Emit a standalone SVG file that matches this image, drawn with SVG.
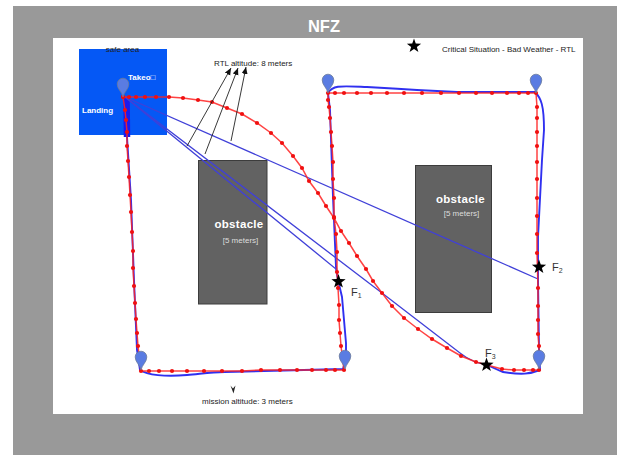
<svg xmlns="http://www.w3.org/2000/svg" width="617" height="455" viewBox="0 0 617 455">
<style>
text{font-family:"Liberation Sans",Arial,sans-serif}
.lbl{font-size:8px;fill:#222}
.w{fill:#fff;font-weight:bold}
.obs{fill:#626262;stroke:#3c3c3c;stroke-width:1}
.ob{font-size:11.500px;fill:#fff;font-weight:bold;letter-spacing:.3px}
.obm{font-size:8px;fill:#ddd}
.rl{fill:none;stroke:#f22;stroke-width:1.500;stroke-opacity:.85;marker-start:url(#dm);marker-mid:url(#dm);marker-end:url(#dm)}
.bl{fill:none;stroke:#1a1aee;stroke-width:1.900;stroke-opacity:.9}
.blt{fill:none;stroke:#1a1aee;stroke-width:6.500}
.th{fill:none;stroke:#4040d8;stroke-width:1.300}
.ar{fill:none;stroke:#222;stroke-width:.9;marker-end:url(#ah)}
.fl{font-size:11px;fill:#333}
.sub{font-size:7px;fill:#333}
</style>
<defs>
<marker id="ah" markerWidth="8" markerHeight="8" refX="7" refY="3" orient="auto" markerUnits="userSpaceOnUse"><path d="M0 0L7 3L0 6Z" fill="#111"/></marker>
<marker id="dm" markerWidth="6" markerHeight="6" refX="3" refY="3" markerUnits="userSpaceOnUse"><circle cx="3" cy="3" r="2.100" fill="#f01010"/></marker>
<path id="star" d="M0-7.500L1.760-2.430L7.130-2.320L2.850.93L4.410 6.070L0 3L-4.410 6.070L-2.850.93L-7.130-2.320L-1.760-2.430Z" fill="#000"/>
<path id="pin" d="M0 0C-1-5-5.800-8-5.800-13A5.800 5.800 0 0 1 5.800-13C5.800-8 1-5 0 0Z" fill="#5a7ce2" stroke="#6a7a9a" stroke-width=".8"/>
</defs>
<rect width="617" height="455" fill="#fff"/>
<rect x="13" y="6" width="604" height="449" fill="#999"/>
<rect x="53" y="38" width="530" height="376" fill="#fff"/>
<text x="324" y="32" text-anchor="middle" class="w" font-size="16.500">NFZ</text>

<g id="safe-area">
<rect x="79" y="49" width="88" height="86" fill="#0558f5"/>
<text x="122.500" y="52" text-anchor="middle" class="lbl">safe area</text>
<text x="128" y="80" class="w" font-size="8">Takeo□</text>
<text x="82" y="113" class="w" font-size="8">Landing</text>
</g>

<g id="obstacle-1"><rect x="198.500" y="160.500" width="68.500" height="143.500" class="obs"/>
<text x="239" y="228" text-anchor="middle" class="ob">obstacle</text>
<text x="240.500" y="243" text-anchor="middle" class="obm">[5 meters]</text></g>
<g id="obstacle-2"><rect x="415.500" y="165.500" width="76" height="147" class="obs"/>
<text x="460.500" y="203" text-anchor="middle" class="ob">obstacle</text>
<text x="461.500" y="215.500" text-anchor="middle" class="obm">[5 meters]</text></g>

<g id="connectors">
<path class="bl" d="M125 97L127 137L131 200L134 280L137 350L140 370C147 375 165 377 187 375C200 374 210 372 225 372L343 369L346 358L346 343L342 297L338 280L336 267L333 197L330 110L328 93C333 85 340 86 367 87C385 88 400 89 417 90L457 92L535 92C541 98 544 105 544 130L542 160L538 237L538 279L539 350L540 370C530 374 522 375 503 372L487 365"/>
<path class="blt" d="M126.500 97L127 137"/>
<path class="th" d="M125 97L336 269L338 279"/>
<path class="th" d="M125 97L382 293L460 353C470 361 478 363 487 365"/>
<path class="th" d="M125 97L538 279"/>
<polyline class="rl" points="123,97 129,97 136,97 145,97 156,97 169,97 183,98 198,100 212,102 227,108 242,114 257,123 271,133 282,143 293,156 302,168 309,181 318,193 326,206 334,218 341,231 349,243 357,256 366,269 373,281 382,293 392,306 404,318 418,329 432,339 447,348 461,356 476,362 487,365 502,369 514,370 524,370 533,370 539,370 539,346 538,334 538,320 538,306 538,288 537,253 537,234 537,216 537,198 537,179 537,162 537,146 537,132 537,118 537,107 536,93 528,93 519,93 507,93 492,93 476,93 459,93 441,93 422,93 404,93 387,93 371,93 357,93 344,93 335,93 328,93 328,100 329,107 330,118 331,132 332,146 333,162 333,179 334,198 334,217 336,234 337,252 337,272 338,288 339,305 339,320 340,333 341,346 344,370 335,370 326,370 312,370 297,370 280,370 261,370 242,371 222,371 204,371 187,371 172,371 159,371 149,371 141,371 138,346 137,333 136,319 135,303 134,286 133,268 133,251 132,232 131,212 130,195 129,177 128,161 127,146 127,132 126,120 125,110 123,97"/>
<path class="ar" d="M187 146L231 68"/><path class="ar" d="M205 154L238 68"/><path class="ar" d="M231 141L246 67"/>
<path d="M230.500 385.500L233 388.500L235.500 385.500L233.500 393.500Z" fill="#222"/>
</g>

<g id="pins"><use href="#pin" x="123" y="97"/><use href="#pin" x="328" y="93"/><use href="#pin" x="536" y="93"/><use href="#pin" x="141" y="370"/><use href="#pin" x="345" y="369"/><use href="#pin" x="539" y="369"/></g>

<g id="stars"><use href="#star" x="414" y="46"/><use href="#star" x="338.500" y="281.500"/><use href="#star" x="539" y="267"/><use href="#star" x="486.500" y="365"/></g>
<g id="labels">
<text x="442" y="52" class="lbl">Critical Situation - Bad Weather - RTL</text>
<text x="214" y="66" class="lbl">RTL altitude: 8 meters</text>
<text x="202" y="404" class="lbl">mission altitude: 3 meters</text>
<text x="351" y="296" class="fl">F<tspan class="sub" dy="2">1</tspan></text>
<text x="552" y="271" class="fl">F<tspan class="sub" dy="2">2</tspan></text>
<text x="485" y="357" class="fl">F<tspan class="sub" dy="2">3</tspan></text>
</g>
</svg>
